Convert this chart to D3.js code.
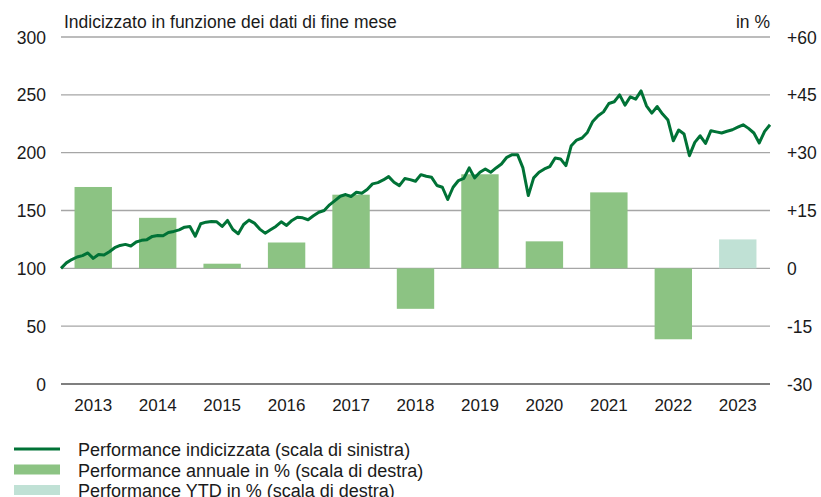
<!DOCTYPE html>
<html>
<head>
<meta charset="utf-8">
<script src="https://cdn.jsdelivr.net/npm/d3@7"></script>
<style>
  body { margin: 0; background: #fff; }
  text { font-family: "Liberation Sans", Arial, sans-serif; fill: #1a1a1a; }
</style>
</head>
<body>
<div id="chart"></div>
<script>
// Years on the category axis
const years = [2013, 2014, 2015, 2016, 2017, 2018, 2019, 2020, 2021, 2022, 2023];

// Annual performance in % (right scale); last one is YTD
const annualPerf = [21.1, 13.1, 1.2, 6.7, 19.1, -10.5, 24.4, 7.0, 19.7, -18.4, 7.5];
const isYtd = [false, false, false, false, false, false, false, false, false, false, true];

// Indexed performance, month-end values from Dec 2012 to Dec 2023 (left scale)
const indexed = [
  100, 104.7, 107.6, 109.8, 111, 113.3, 108.6, 112, 111.5, 114.4, 117.8, 119.8,
  120.7, 119.3, 122.8, 124.2, 124.8, 127.6, 128.4, 128.2, 131, 131.9, 133.3, 135.6,
  136.2, 127.8, 138.5, 139.9, 140.5, 140.2, 136.2, 141.4, 133.6, 129.9, 137.9, 141.7,
  139.1, 133.9, 130.4, 133.3, 136.2, 140.2, 137.1, 141.4, 144.2, 143.7, 142, 145.4,
  148.5, 150, 154.9, 158.6, 162.3, 163.8, 162.1, 165.8, 164.9, 168.1, 173, 174.1,
  176.4, 179.3, 174.4, 171.5, 177.6, 176.7, 175.3, 181, 179.6, 178.7, 171.6, 170.1,
  159.5, 170.1, 175.9, 177.8, 186.8, 178.2, 183, 185.9, 183, 186.8, 190.2, 196,
  198.3, 198.3, 186.8, 162.9, 178.2, 183, 185.9, 187.9, 195.4, 194.6, 188.8, 206,
  210.9, 212.7, 217.5, 227, 231.9, 235.3, 242.5, 244, 250, 241.1, 248.3, 246.3,
  253.4, 240.5, 234.2, 239.9, 233.4, 228.2, 210.3, 219.6, 216.1, 197.4, 208.9, 214.6,
  208, 219, 218, 217, 218.5, 219.8, 222, 224.1, 221, 217, 208.4, 218.4,
  224.1
];

const leftTicks = [0, 50, 100, 150, 200, 250, 300];
const rightTicks = [-30, -15, 0, 15, 30, 45, 60];

const W = 821, H = 497;
const margin = {top: 37, right: 51, bottom: 113, left: 61};
const width = W - margin.left - margin.right,
      height = H - margin.top - margin.bottom;

const svg = d3.select("#chart").append("svg")
  .attr("width", W)
  .attr("height", H);

const g = svg.append("g")
  .attr("transform", `translate(${margin.left},${margin.top})`);

// Scales
const yLeft = d3.scaleLinear().domain([0, 300]).range([height, 0]);
const yRight = d3.scaleLinear().domain([-30, 60]).range([height, 0]);
const x = d3.scaleBand().domain(years).range([0, width]).paddingInner(0.42).paddingOuter(0.21);
const xTime = d3.scaleLinear().domain([0, indexed.length - 1]).range([0, width]);

// Gridlines
g.selectAll(".grid")
  .data(leftTicks)
  .enter()
  .append("line")
  .attr("x1", 0)
  .attr("x2", width)
  .attr("y1", d => yLeft(d))
  .attr("y2", d => yLeft(d))
  .attr("stroke", d => d === 0 ? "#555" : "#a6a6a6")
  .attr("stroke-width", 1.3);

// Bars
g.selectAll(".bar")
  .data(years)
  .enter()
  .append("rect")
  .attr("x", d => x(d))
  .attr("width", x.bandwidth())
  .attr("y", (d, i) => yRight(Math.max(0, annualPerf[i])))
  .attr("height", (d, i) => Math.abs(yRight(annualPerf[i]) - yRight(0)))
  .attr("fill", (d, i) => isYtd[i] ? "#c0e1d5" : "#8cc383");

// Line
const line = d3.line()
  .x((d, i) => xTime(i))
  .y(d => yLeft(d));
g.append("path")
  .datum(indexed)
  .attr("d", line)
  .attr("fill", "none")
  .attr("stroke", "#007236")
  .attr("stroke-width", 3)
  .attr("stroke-linejoin", "round");

// Left axis
const leftAxis = g.append("g")
  .call(d3.axisLeft(yLeft).tickValues(leftTicks).tickSize(0).tickPadding(15));
leftAxis.select(".domain").remove();
leftAxis.selectAll("text").style("font-size", "17.5px").attr("dy", "0.35em")
  .style("font-family", "Liberation Sans, Arial, sans-serif").attr("fill", "#1a1a1a");

// Right axis
const rightAxis = g.append("g")
  .attr("transform", `translate(${width},0)`)
  .call(d3.axisRight(yRight).tickValues(rightTicks).tickSize(0).tickPadding(17)
    .tickFormat(d => d > 0 ? "+" + d : d));
rightAxis.select(".domain").remove();
rightAxis.selectAll("text").style("font-size", "17.5px").attr("dy", "0.35em")
  .style("font-family", "Liberation Sans, Arial, sans-serif").attr("fill", "#1a1a1a");

// Bottom axis
const xAxis = g.append("g")
  .attr("transform", `translate(0,${height})`)
  .call(d3.axisBottom(x).tickSize(0).tickPadding(15));
xAxis.select(".domain").remove();
xAxis.selectAll("text").style("font-size", "17px")
  .style("font-family", "Liberation Sans, Arial, sans-serif").attr("fill", "#1a1a1a");

// Header texts
svg.append("text")
  .attr("x", 64)
  .attr("y", 28)
  .style("font-size", "17.5px")
  .text("Indicizzato in funzione dei dati di fine mese");
svg.append("text")
  .attr("x", 770)
  .attr("y", 28)
  .attr("text-anchor", "end")
  .style("font-size", "17.5px")
  .text("in %");

// Legend
const legend = [
  {label: "Performance indicizzata (scala di sinistra)", type: "line", color: "#007236"},
  {label: "Performance annuale in % (scala di destra)", type: "bar", color: "#8cc383"},
  {label: "Performance YTD in % (scala di destra)", type: "bar", color: "#c0e1d5"}
];
const lg = svg.append("g").attr("transform", "translate(14,449)");
legend.forEach((d, i) => {
  const row = lg.append("g").attr("transform", `translate(0,${i * 20.5})`);
  if (d.type === "line") {
    row.append("line").attr("x1", 0).attr("x2", 46).attr("y1", 0).attr("y2", 0)
      .attr("stroke", d.color).attr("stroke-width", 3);
  } else {
    row.append("rect").attr("x", 0).attr("y", -5).attr("width", 46).attr("height", 10)
      .attr("fill", d.color);
  }
  row.append("text").attr("x", 64).attr("y", 7).style("font-size", "18px").text(d.label);
});
</script>
</body>
</html>
